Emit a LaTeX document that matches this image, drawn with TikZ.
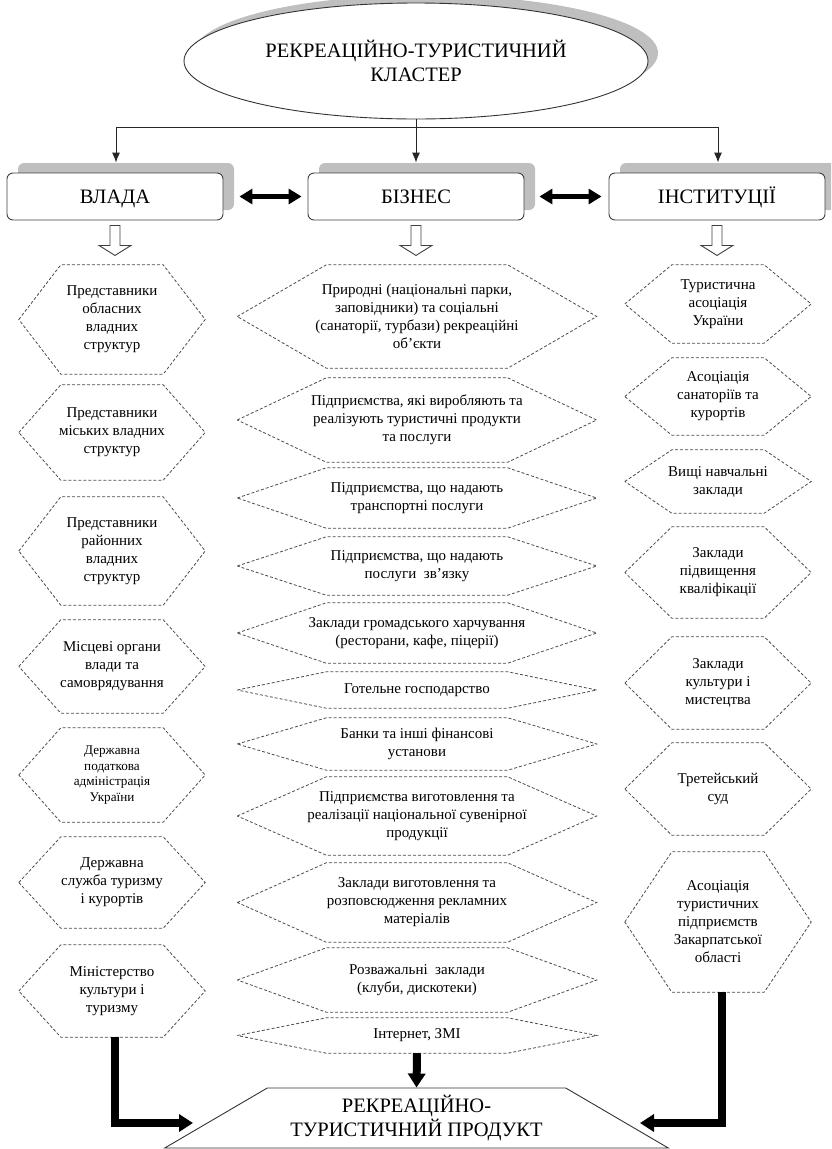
\documentclass[tikz,border=0pt]{standalone}
\usepackage{fontspec}
\setmainfont{Liberation Serif}
\usetikzlibrary{arrows.meta,positioning,shapes,calc,shadows}

\newcommand{\hexfont}{\fontsize{15}{18}\selectfont}
\newcommand{\hexsmall}{\fontsize{13.2}{15.5}\selectfont}
\newcommand{\headfont}{\fontsize{20.5}{24}\selectfont}

\tikzset{
  cluster/.style={ellipse, draw=black!80, fill=white, line width=0.9pt, minimum width=464pt, minimum height=116pt, align=center, font=\headfont, drop shadow={shadow xshift=10pt, shadow yshift=8pt, fill=gray!50, opacity=1}},
  sector/.style={rectangle, rounded corners=6pt, draw=black!75, fill=white, line width=0.9pt, minimum width=216pt, minimum height=47pt, text height=14pt, text depth=0pt, font=\headfont, drop shadow={shadow xshift=11pt, shadow yshift=10pt, fill=gray!50, opacity=1}},
  hexa/.style={rectangle, inner sep=0pt, align=center, font=\hexfont},
  hexline/.style={draw=black!70, line width=0.8pt, dash pattern=on 3pt off 2pt},
  thin arrow/.style={-{Latex[length=10pt,width=8pt]}, draw=black!85, line width=0.9pt},
  both arrow/.style={{Triangle[length=13pt,width=15pt]}-{Triangle[length=13pt,width=15pt]}, line width=4.5pt},
  fat arrow/.style={-{Triangle[length=14pt,width=17pt]}, line width=8pt},
  hollow/.style={draw=black!75, fill=white, line width=0.9pt},
}

\begin{document}
\begin{tikzpicture}[x=1pt, y=-1pt]
  \useasboundingbox (0,0) rectangle (831,1149);
  \clip (0,0) rectangle (831,1149);
  % Cluster and sectors
  \node[cluster] (cluster) at (416,61) {РЕКРЕАЦІЙНО-ТУРИСТИЧНИЙ\\КЛАСТЕР};
  \node[sector] (vlada) at (115,196.5) {ВЛАДА};
  \node[sector] (biznes) at (416,196.5) {БІЗНЕС};
  \node[sector] (inst) at (717,196.5) {ІНСТИТУЦІЇ};
  % Split lines
  \coordinate (split) at (416,127);
  \draw[draw=black!85, line width=0.9pt] (cluster.south) -- (split);
  \draw[thin arrow] (split) -| ([xshift=1pt,yshift=10pt]vlada.north);
  \draw[thin arrow] (split) -- ([yshift=10pt]biznes.north);
  \draw[thin arrow] (split) -| ([xshift=1pt,yshift=10pt]inst.north);
  % Links between sectors
  \draw[both arrow, shorten <=16pt, shorten >=6pt] (vlada) -- (biznes);
  \draw[both arrow, shorten <=15pt, shorten >=7pt] (biznes) -- (inst);
  \foreach \b in {vlada,biznes,inst}
    \draw[hollow] ($(\b.south)+(-5,5)$) -- ++(0,20) -- ++(-11,0) -- ++(16,10) -- ++(16,-10) -- ++(-11,0) -- ++(0,-20) -- cycle;
  % Vlada column
  \foreach \nm/\yt/\yb/\fnt/\txt in {
    vl1/265/374/\hexfont/{Представники\\обласних\\владних\\структур},
    vl2/385/480/\hexfont/{Представники\\міських владних\\структур},
    vl3/497/605/\hexfont/{Представники\\районних\\владних\\структур},
    vl4/620/713/\hexfont/{Місцеві органи\\влади та\\самоврядування},
    vl5/728/822/\hexsmall/{Державна\\податкова\\адміністрація\\України},
    vl6/837/928/\hexfont/{Державна\\служба туризму\\і курортів},
    vl7/945/1037/\hexfont/{Міністерство\\культури і\\туризму}}{
    \node[hexa, font=\fnt, minimum width=186pt, minimum height={(\yb-\yt)*1pt}] (\nm) at (112,{(\yt+\yb)/2}) {\txt};
    \draw[hexline] (\nm.west) -- ([xshift=42pt]\nm.north west) -- ([xshift=-42pt]\nm.north east) -- (\nm.east) -- ([xshift=-42pt]\nm.south east) -- ([xshift=42pt]\nm.south west) -- cycle;
  }
  % Biznes column
  \foreach \nm/\yt/\yb/\txt in {
    bz1/265/368/{Природні (національні парки,\\заповідники) та соціальні\\(санаторії, турбази) рекреаційні\\об’єкти},
    bz2/378/462/{Підприємства, які виробляють та\\реалізують туристичні продукти\\та послуги},
    bz3/468/528/{Підприємства, що надають\\транспортні послуги},
    bz4/537/595/{Підприємства, що надають\\послуги~ зв’язку},
    bz5/603/663/{Заклади громадського харчування\\(ресторани, кафе, піцерії)},
    bz6/672/708/{Готельне господарство},
    bz7/718/770/{Банки та інші фінансові\\установи},
    bz8/777/855/{Підприємства виготовлення та\\реалізації національної сувенірної\\продукції},
    bz9/863/942/{Заклади виготовлення та\\розповсюдження рекламних\\матеріалів},
    bz10/948/1012/{Розважальні~ заклади\\(клуби, дискотеки)},
    bz11/1018/1053/{Інтернет, ЗМІ}}{
    \node[hexa, minimum width=359pt, minimum height={(\yb-\yt)*1pt}] (\nm) at (417,{(\yt+\yb)/2}) {\txt};
    \draw[hexline] (\nm.west) -- ([xshift=89pt]\nm.north west) -- ([xshift=-89pt]\nm.north east) -- (\nm.east) -- ([xshift=-89pt]\nm.south east) -- ([xshift=89pt]\nm.south west) -- cycle;
  }
  % Instytutsii column
  \foreach \nm/\yt/\yb/\txt in {
    in1/265/343/{Туристична\\асоціація\\України},
    in2/358/435/{Асоціація\\санаторіїв та\\курортів},
    in3/450/513/{Вищі навчальні\\заклади},
    in4/527/618/{Заклади\\підвищення\\кваліфікації},
    in5/637/729/{Заклади\\культури і\\мистецтва},
    in6/743/835/{Третейський\\суд},
    in7/852/992/{Асоціація\\туристичних\\підприємств\\Закарпатської\\області}}{
    \node[hexa, minimum width=186pt, minimum height={(\yb-\yt)*1pt}] (\nm) at (718,{(\yt+\yb)/2}) {\txt};
    \draw[hexline] (\nm.west) -- ([xshift=47pt]\nm.north west) -- ([xshift=-47pt]\nm.north east) -- (\nm.east) -- ([xshift=-47pt]\nm.south east) -- ([xshift=47pt]\nm.south west) -- cycle;
  }
  % Product
  \node[trapezium, trapezium left angle=30.5, trapezium right angle=30.5, trapezium stretches=true, minimum width=507pt, minimum height=60pt, draw=black!80, line width=0.9pt, align=center, font=\headfont] (prod) at (416.5,1118) {РЕКРЕАЦІЙНО-\\ТУРИСТИЧНИЙ ПРОДУКТ};
  \coordinate (prodL) at (193,1123);
  \coordinate (prodR) at (640,1123);
  \draw[fat arrow] ([xshift=3pt]vl7.south) |- (prodL);
  \draw[fat arrow] ([xshift=4pt]in7.south) |- (prodR);
  \draw[fat arrow] (bz11.south) -- (prod.north);
\end{tikzpicture}
\end{document}
